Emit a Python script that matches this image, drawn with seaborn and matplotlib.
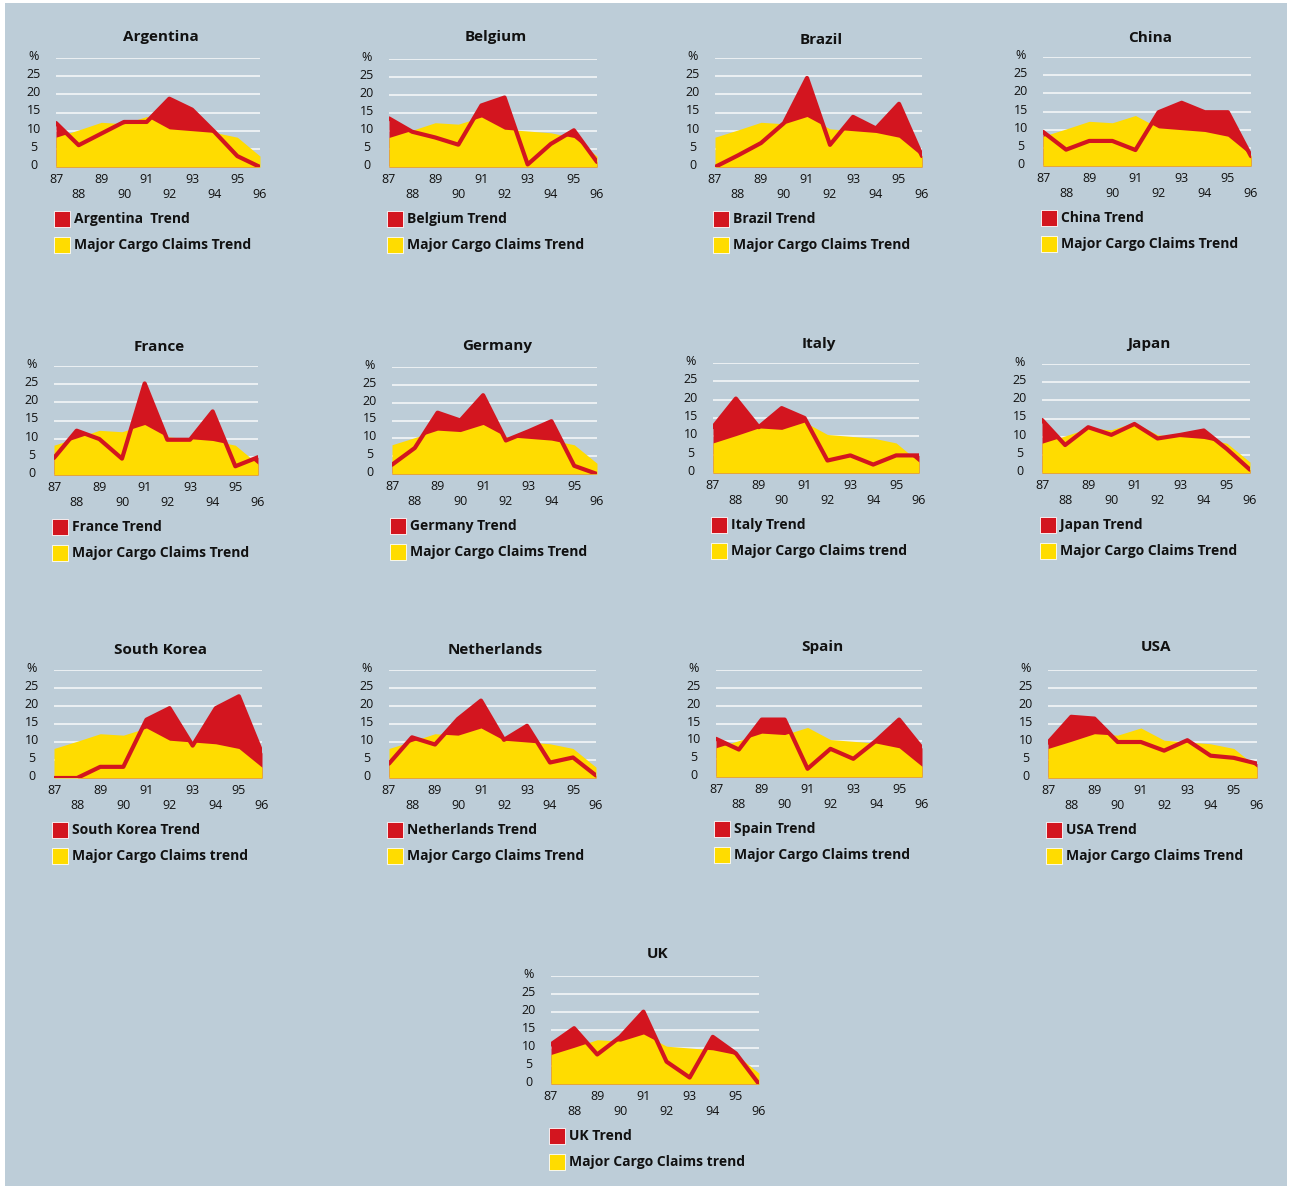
import matplotlib

matplotlib.use("Agg")
import matplotlib.pyplot as plt  # noqa: E402
import matplotlib.transforms as mtransforms  # noqa: E402
from matplotlib.patches import Rectangle  # noqa: E402
import seaborn as sns  # noqa: E402

# ---- data -------------------------------------------------------------------
YEARS = [87, 88, 89, 90, 91, 92, 93, 94, 95, 96]
YEAR_LABELS = ["87", "\n88", "89", "\n90", "91", "\n92", "93", "\n94", "95", "\n96"]
Y_TICKS = [0, 5, 10, 15, 20, 25, 30]
Y_LABELS = ["0", "5", "10", "15", "20", "25", "%"]

MAJOR = [8.2, 10.2, 12.3, 11.9, 13.9, 10.5, 10.0, 9.5, 8.2, 3.0]

ARGENTINA = [12.1, 6.0, 9.2, 12.4, 12.4, 18.8, 15.8, 9.6, 3.0, 0.0]
BELGIUM = [13.5, 9.8, 8.2, 6.2, 17.1, 19.3, 0.7, 6.4, 10.2, 1.4]
BRAZIL = [0.0, 3.2, 6.6, 12.1, 24.5, 6.1, 13.8, 10.6, 17.4, 3.0]
CHINA = [9.4, 4.5, 6.9, 6.9, 4.4, 14.8, 17.4, 14.8, 14.8, 2.7]
FRANCE = [4.7, 12.2, 9.9, 4.5, 25.2, 9.7, 9.7, 17.5, 2.4, 4.9]
GERMANY = [2.6, 7.3, 17.2, 15.0, 22.1, 9.4, 12.0, 14.8, 2.3, 0.0]
ITALY = [12.5, 20.3, 12.5, 17.7, 15.0, 3.4, 4.8, 2.3, 4.8, 4.8]
JAPAN = [14.6, 7.7, 12.6, 10.5, 13.5, 9.5, 10.5, 11.7, 6.6, 0.9]
SOUTH_KOREA = [0.0, 0.0, 3.1, 3.1, 16.2, 19.4, 9.0, 19.4, 22.7, 6.9]
NETHERLANDS = [4.0, 11.3, 9.3, 16.4, 21.5, 10.6, 14.5, 4.3, 5.7, 0.7]
SPAIN = [10.7, 7.7, 16.1, 16.1, 2.3, 7.9, 5.1, 10.2, 16.1, 8.1]
USA = [9.8, 17.0, 16.5, 10.0, 10.0, 7.6, 10.5, 6.2, 5.6, 4.0]
UK = [11.0, 15.5, 8.2, 13.1, 20.1, 6.2, 1.8, 13.1, 8.5, 0.0]

# name, values, country legend, major legend
PANELS = [
    ("Argentina", ARGENTINA, "Argentina  Trend", "Major Cargo Claims Trend"),
    ("Belgium", BELGIUM, "Belgium Trend", "Major Cargo Claims Trend"),
    ("Brazil", BRAZIL, "Brazil Trend", "Major Cargo Claims Trend"),
    ("China", CHINA, "China Trend", "Major Cargo Claims Trend"),
    ("France", FRANCE, "France Trend", "Major Cargo Claims Trend"),
    ("Germany", GERMANY, "Germany Trend", "Major Cargo Claims Trend"),
    ("Italy", ITALY, "Italy Trend", "Major Cargo Claims trend"),
    ("Japan", JAPAN, "Japan Trend", "Major Cargo Claims Trend"),
    ("South Korea", SOUTH_KOREA, "South Korea Trend", "Major Cargo Claims trend"),
    ("Netherlands", NETHERLANDS, "Netherlands Trend", "Major Cargo Claims Trend"),
    ("Spain", SPAIN, "Spain Trend", "Major Cargo Claims trend"),
    ("USA", USA, "USA Trend", "Major Cargo Claims Trend"),
    ("UK", UK, "UK Trend", "Major Cargo Claims trend"),
]

# ---- layout (pixels from top-left): left, right, baseline, top, title y ----
LAYOUT = {
    "Argentina": (56, 260, 167, 58, 37),
    "Belgium": (389, 597, 167, 59, 37),
    "Brazil": (715, 922, 167, 58, 40),
    "China": (1043, 1251, 166, 57, 38),
    "France": (54, 258, 475, 366, 347),
    "Germany": (392, 597, 474, 367, 346),
    "Italy": (713, 919, 473, 363, 344),
    "Japan": (1042, 1250, 473, 364, 344),
    "South Korea": (54, 262, 778, 670, 650),
    "Netherlands": (389, 596, 778, 670, 650),
    "Spain": (716, 922, 777, 670, 647),
    "USA": (1048, 1257, 778, 670, 647),
    "UK": (551, 759, 1084, 976, 954),
}

W, H = 1291, 1189
BG = "#BDCDD8"
RED = "#D3151F"
YELLOW = "#FFDC00"
FONT = ["Open Sans", "DejaVu Sans"]

sns.set_style("white")
plt.rcParams["font.family"] = FONT

fig = plt.figure(figsize=(W / 100, H / 100), dpi=100, facecolor="white")
fig.add_artist(Rectangle((5 / W, 1 - 1186 / H), 1282 / W, 1183 / H,
                         transform=fig.transFigure, facecolor=BG, lw=0, zorder=-10))


def fx(x):
    return x / W


def fy(y):
    return 1 - y / H


def draw_panel(name, values, country_label, major_label):
    left, right, base, top, title_y = LAYOUT[name]
    ax = fig.add_axes([fx(left), fy(base), (right - left) / W, (base - top) / H])
    ax.set_facecolor("none")

    ax.fill_between(YEARS, 0, values, color=RED, lw=0, zorder=2)
    ax.fill_between(YEARS, 0, MAJOR, color=YELLOW, lw=0, zorder=3)
    sns.lineplot(x=YEARS, y=values, ax=ax, color=RED, lw=3.0, zorder=4)

    ax.set_xlim(87, 96)
    ax.set_ylim(0, 30)
    ax.set_yticks(Y_TICKS)
    ax.set_yticklabels(Y_LABELS, fontsize=9, ha="center")
    ax.set_xticks(YEARS)
    ax.set_xticklabels(YEAR_LABELS, fontsize=9, linespacing=1.2)
    ax.tick_params(axis="y", length=0, pad=16, colors="#111111")
    ax.tick_params(axis="x", length=0, pad=4, colors="#111111")
    shift = mtransforms.ScaledTranslation(0, 0.03, fig.dpi_scale_trans)
    for lab in ax.get_yticklabels():
        lab.set_transform(lab.get_transform() + shift)

    ax.grid(axis="y", color="white", lw=1.1, alpha=0.9, zorder=1)
    ax.grid(axis="x", visible=False)
    ax.set_axisbelow(True)
    for s in ax.spines.values():
        s.set_visible(False)

    fig.text(fx((left + right) / 2 + 3), fy(title_y), name, ha="center", va="center",
             fontsize=11, fontweight="bold", color="#111111")

    # hand-made legend
    for i, (col, lab) in enumerate([(RED, country_label), (YELLOW, major_label)]):
        cy = base + 52 + 26 * i
        fig.add_artist(Rectangle((fx(left - 2), fy(cy + 8)), 16 / W, 16 / H,
                                 transform=fig.transFigure, facecolor=col,
                                 edgecolor="white", lw=0.6))
        fig.text(fx(left + 18), fy(cy), lab, ha="left", va="center",
                 fontsize=10, fontweight="bold", color="#111111")


for name, values, c_lab, m_lab in PANELS:
    draw_panel(name, values, c_lab, m_lab)

fig.savefig("out.png", dpi=100, facecolor=fig.get_facecolor())
